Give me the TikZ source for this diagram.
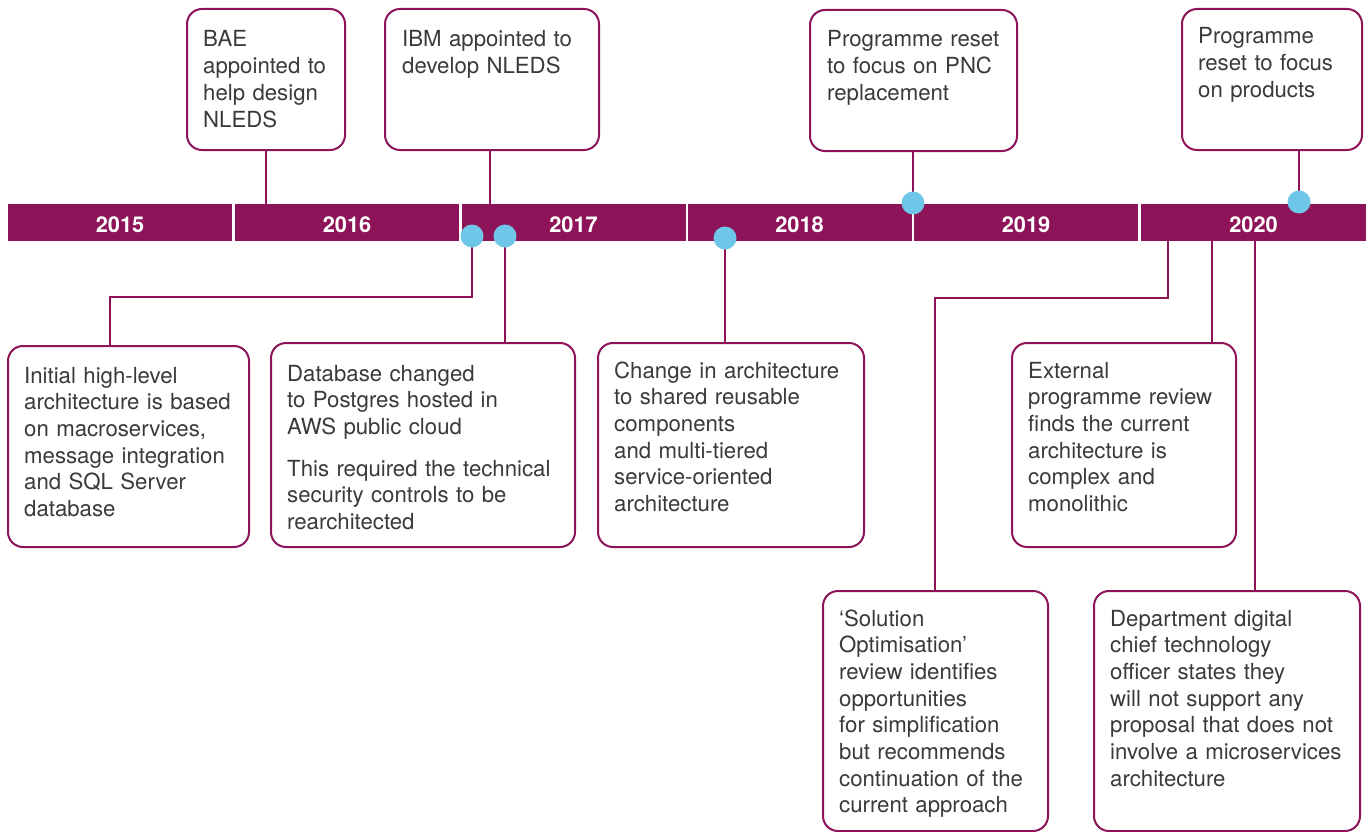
\documentclass[tikz,border=0pt]{standalone}
\usepackage{fontspec}
\setmainfont{TeX Gyre Heros}
\definecolor{plum}{HTML}{8E1459}
\definecolor{dotblue}{HTML}{6EC6E8}
\definecolor{txt}{HTML}{3A3A3A}
\begin{document}
\begin{tikzpicture}[x=1pt,y=-1pt,
  yearseg/.style={rectangle, fill=plum, inner sep=0pt, minimum height=37pt, minimum width=224pt,
    text=white, font=\fontsize{21.8}{24}\selectfont\bfseries, text height=19.5pt, text depth=0pt},
  evbox/.style={draw=plum, line width=2pt, rounded corners=15pt, inner sep=0pt, fill=white},
  evtext/.style={anchor=base west, inner sep=0pt, text width=400pt, align=left, text=txt,
    font=\fontsize{22.2}{26.7}\selectfont},
  conn/.style={draw=plum, line width=2pt},
  evdot/.style={circle, fill=dotblue, inner sep=0pt, minimum size=23pt}]
\useasboundingbox (0,0) rectangle (1370,832);
% year bar
\node[yearseg] (y15) at (120,222.5) {2015};
\node[yearseg] (y16) at (347,222.5) {2016};
\node[yearseg] (y17) at (573.5,222.5) {2017};
\node[yearseg] (y18) at (799.5,222.5) {2018};
\node[yearseg] (y19) at (1026,222.5) {2019};
\node[yearseg, minimum width=225pt] (y20) at (1253.5,222.5) {2020};
% boxes
\newcommand{\evb}[5]{\node[evbox, minimum width={#4-#2}, minimum height={#5-#3}] (#1) at ({(#2+#4)/2},{(#3+#5)/2}) {};}
\evb{bT1}{187}{9}{345}{150}
\evb{bT2}{385}{9}{599}{150}
\evb{bT3}{810}{10}{1017}{151}
\evb{bT4}{1182}{9}{1362}{150}
\evb{bA}{8}{346}{249}{547}
\evb{bB}{271}{343}{575}{547}
\evb{bC}{598}{343}{864}{547}
\evb{bD}{1012}{343}{1236}{547}
\evb{bE}{823}{591}{1048}{831}
\evb{bF}{1094}{591}{1360}{831}
% dots positions
\coordinate (p1) at (472,236);
\coordinate (p2) at (505,236);
\coordinate (p3) at (725,238);
\coordinate (p4) at (913,203);
\coordinate (p5) at (1299,202);
\coordinate (cT2) at (490,150);
\coordinate (jA) at (110,297);
\coordinate (sD) at (1212,241);
\coordinate (sE) at (1168,241);
\coordinate (jE) at (935,298);
\coordinate (sF) at (1255,241);
% connectors
\draw[conn] (bT1.south) -- (bT1.south |- y16.north);
\draw[conn] (cT2) -- (cT2 |- y17.north);
\draw[conn] (bT3.south -| p4) -- (p4);
\draw[conn] (bT4.south -| p5) -- (p5);
\draw[conn] (p1) |- (jA) -- (jA |- bA.north);
\draw[conn] (p2) -- (p2 |- bB.north);
\draw[conn] (p3) -- (p3 |- bC.north);
\draw[conn] (sD) -- (sD |- bD.north);
\draw[conn] (sE) |- (jE) -- (jE |- bE.north);
\draw[conn] (sF) -- (sF |- bF.north);
% dots
\node[evdot] (d1) at (p1) {};
\node[evdot] (d2) at (p2) {};
\node[evdot] (d3) at (p3) {};
\node[evdot] (d4) at (p4) {};
\node[evdot] (d5) at (p5) {};
% texts
\node[evtext] (tT1) at (203,47) {BAE\\appointed to\\help design\\NLEDS};
\node[evtext] (tT2) at (402,47) {IBM appointed to\\develop NLEDS};
\node[evtext] (tT3) at (827,47) {Programme reset\\to focus on PNC\\replacement};
\node[evtext] (tT4) at (1198,44) {Programme\\reset to focus\\on products};
\node[evtext] (tA) at (24,383) {Initial high-level\\architecture is based\\on macroservices,\\message integration\\and SQL Server\\database};
\node[evtext] (tB) at (287,381) {Database changed\\to Postgres hosted in\\AWS public cloud\\[15pt]This required the technical\\security controls to be\\rearchitected};
\node[evtext] (tC) at (614,378) {Change in architecture\\to shared reusable\\components\\and multi-tiered\\service-oriented\\architecture};
\node[evtext] (tD) at (1028,378) {External\\programme review\\finds the current\\architecture is\\complex and\\monolithic};
\node[evtext] (tE) at (839,626) {‘Solution\\Optimisation’\\review identifies\\opportunities\\for simplification\\but recommends\\continuation of the\\current approach};
\node[evtext] (tF) at (1110,626) {Department digital\\chief technology\\officer states they\\will not support any\\proposal that does not\\involve a microservices\\architecture};
\end{tikzpicture}
\end{document}
